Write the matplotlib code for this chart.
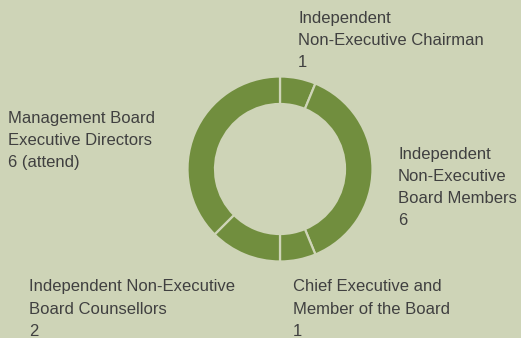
import matplotlib.pyplot as plt

# board composition
labels = [
    ["Independent", "Non-Executive Chairman", "1"],
    ["Independent", "Non-Executive", "Board Members", "6"],
    ["Chief Executive and", "Member of the Board", "1"],
    ["Independent Non-Executive", "Board Counsellors", "2"],
    ["Management Board", "Executive Directors", "6 (attend)"],
]
counts = [1, 6, 1, 2, 6]

# label anchor (left x, first baseline y in pixels from top), line step
label_pos = [(298, 23, 22), (398, 159, 22), (293, 291, 22.5), (29, 291, 22.5), (8, 123, 22)]

bg = "#ced4b7"
ring = "#718e3e"
W, H = 521, 338

fig = plt.figure(figsize=(W / 100, H / 100), dpi=100, facecolor=bg)
ax = fig.add_axes([0, 0, 1, 1])
ax.set_facecolor(bg)

ax.pie(counts, startangle=90, counterclock=False, radius=92.5, center=(280, H - 169),
       colors=[ring] * len(counts),
       wedgeprops=dict(width=27.5, edgecolor=bg, linewidth=1.6))

for lines, (x, y0, step) in zip(labels, label_pos):
    for i, line in enumerate(lines):
        ax.text(x, H - (y0 + i * step), line, ha="left", va="baseline",
                fontsize=12, color="#404040", family=["Liberation Sans", "DejaVu Sans"])

ax.set_xlim(0, W)
ax.set_ylim(0, H)
ax.set_aspect("auto")
ax.axis("off")

fig.savefig("out.png", dpi=100, facecolor=bg)
